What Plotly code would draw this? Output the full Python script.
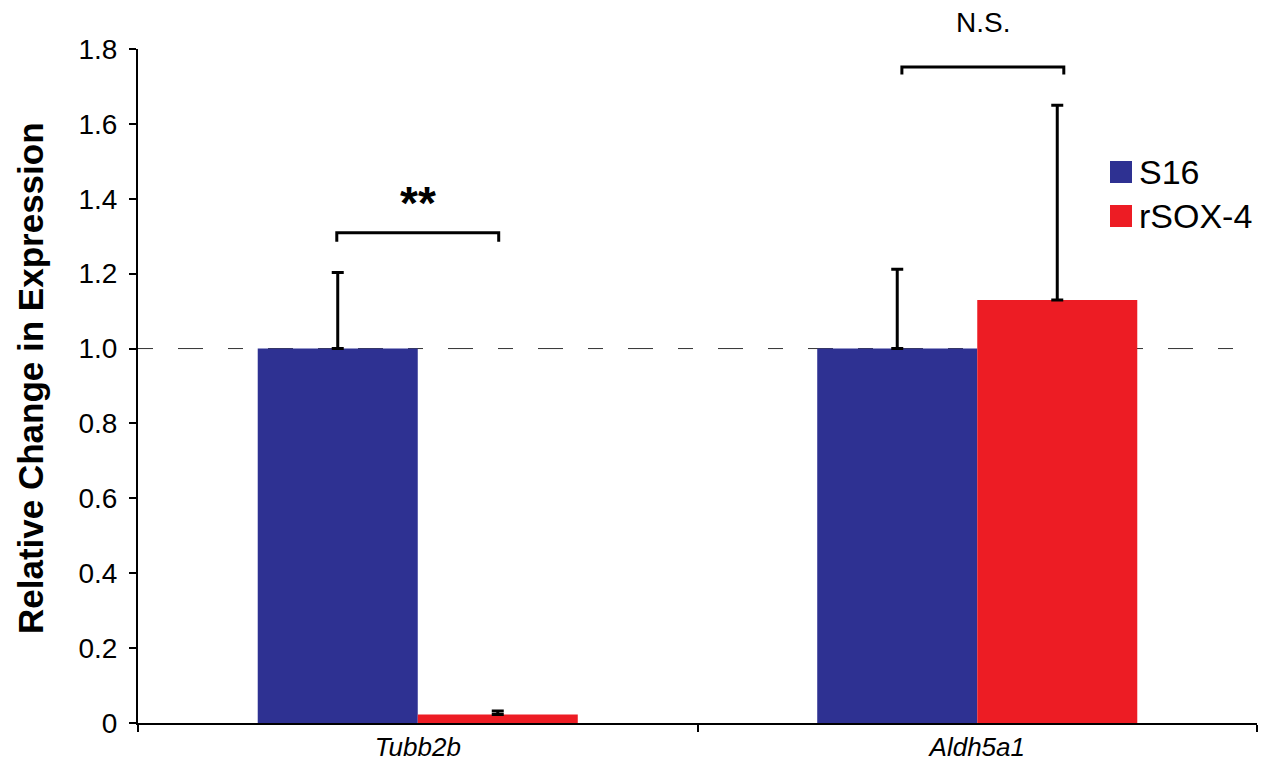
import plotly.graph_objects as go

categories = ["Tubb2b", "Aldh5a1"]
cat_labels = ["<i>Tubb2b</i>", "<i>Aldh5a1</i>"]
series_names = ["S16", "rSOX-4"]
s16_values = [1.0, 1.0]
s16_errors = [0.203, 0.212]
rsox_values = [0.023, 1.13]
rsox_errors = [0.009, 0.52]
sig_labels = ["**", "N.S."]
sig_heights = [1.309, 1.752]
y_ticks = [0, 0.2, 0.4, 0.6, 0.8, 1.0, 1.2, 1.4, 1.6, 1.8]
y_tick_text = ["0", "0.2", "0.4", "0.6", "0.8", "1.0", "1.2", "1.4", "1.6", "1.8"]

BLUE = "#2E3192"
RED = "#ED1C24"
FONT = "Liberation Sans, Arial, sans-serif"

xpos = list(range(len(categories)))

W, H = 1265, 761
ml, mr, mt, mb = 138, 8, 49, 38
pw = W - ml - mr
ph = H - mt - mb


def px_x(px):
    return (px - ml) / pw


def px_y(py):
    return 1 - (py - mt) / ph


fig = go.Figure()
fig.add_trace(go.Bar(
    x=xpos, y=s16_values, name=series_names[0], marker_color=BLUE,
    marker_line_width=0,
    error_y=dict(type="data", array=s16_errors, arrayminus=[0, 0], symmetric=False,
                 color="black", thickness=3, width=6),
    showlegend=False,
))
fig.add_trace(go.Bar(
    x=xpos, y=rsox_values, name=series_names[1], marker_color=RED,
    marker_line_width=0,
    error_y=dict(type="data", array=rsox_errors, arrayminus=[0, 0], symmetric=False,
                 color="black", thickness=3, width=6),
    showlegend=False,
))

# dashed reference line at 1.0
fig.add_shape(type="line", xref="paper", yref="y", x0=0, x1=1, y0=1.0, y1=1.0,
              line=dict(color="#333333", width=1, dash="15px,25px,25px,25px"), layer="below")

# significance brackets
half = 0.1447
shifts = [0.0, 0.01]
drops = [0.024, 0.02]
for i, (lab, h) in enumerate(zip(sig_labels, sig_heights)):
    xl = xpos[i] - half + shifts[i]
    xr = xpos[i] + half + shifts[i]
    d = drops[i]
    fig.add_shape(type="path",
                  path=f"M {xl},{h - d} L {xl},{h} L {xr},{h} L {xr},{h - d}",
                  xref="x", yref="y", line=dict(color="black", width=3))
    if lab == "**":
        fig.add_annotation(x=xpos[i] + shifts[i], y=px_y(203), text="<b>**</b>",
                           showarrow=False, xref="x", yref="paper", yanchor="middle",
                           font=dict(family=FONT, size=46, color="black"))
    else:
        fig.add_annotation(x=xpos[i] + shifts[i], y=px_y(22), text=lab,
                           showarrow=False, xref="x", yref="paper", yanchor="middle",
                           font=dict(family=FONT, size=28, color="black"))

# legend drawn as swatches + labels
leg_items = [(series_names[0], BLUE, 172), (series_names[1], RED, 216)]
for name, col, cy in leg_items:
    fig.add_shape(type="rect", xref="paper", yref="paper",
                  x0=px_x(1110), x1=px_x(1132), y0=px_y(cy - 11), y1=px_y(cy + 11),
                  fillcolor=col, line=dict(width=0))
    fig.add_annotation(xref="paper", yref="paper", x=px_x(1137), y=px_y(cy),
                       text=name, showarrow=False, xanchor="left", yanchor="middle",
                       font=dict(family=FONT, size=34, color="black"))

# y-axis title
fig.add_annotation(xref="paper", yref="paper", x=px_x(30), y=px_y(378),
                   text="<b>Relative Change in Expression</b>", textangle=-90,
                   showarrow=False, xanchor="center", yanchor="middle",
                   font=dict(family=FONT, size=35, color="black"))

fig.update_layout(
    width=W, height=H,
    margin=dict(l=ml, r=mr, t=mt, b=mb, pad=0, autoexpand=False),
    plot_bgcolor="white", paper_bgcolor="white",
    barmode="group", bargap=0.428, bargroupgap=0,
    font=dict(family=FONT, color="black"),
    showlegend=False,
)
fig.update_xaxes(
    range=[-0.5, 1.5], tickmode="array", tickvals=xpos, ticktext=cat_labels,
    showgrid=False, zeroline=False, showline=True, linecolor="black", linewidth=2,
    ticks="", automargin=False, tickfont=dict(family=FONT, size=26, color="black"),
    minor=dict(tickmode="array", tickvals=[-0.5, 0.5, 1.5], ticks="outside",
               ticklen=7, tickwidth=2, tickcolor="black", showgrid=False),
)
fig.update_yaxes(
    range=[0, 1.8], tickmode="array", tickvals=y_ticks, ticktext=y_tick_text,
    showgrid=False, zeroline=False, showline=True, linecolor="black", linewidth=2,
    ticks="outside", ticklen=7, tickwidth=2, tickcolor="black", automargin=False,
    ticklabelstandoff=6,
    tickfont=dict(family=FONT, size=28, color="black"),
)

fig.write_html("out.html")
